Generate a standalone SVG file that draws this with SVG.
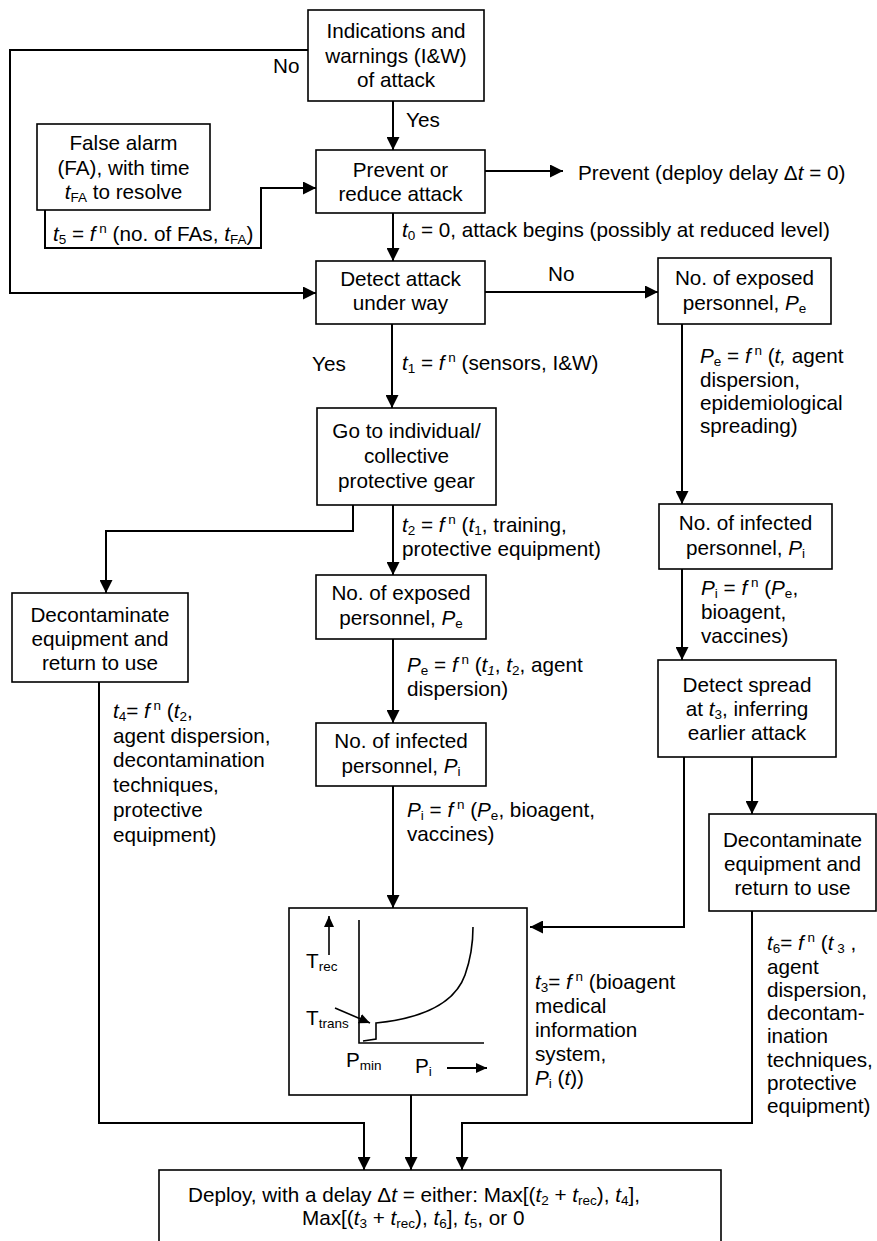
<svg xmlns="http://www.w3.org/2000/svg" width="877" height="1241" viewBox="0 0 877 1241">
<style>
text{font-family:"Liberation Sans",Arial,Helvetica,sans-serif;font-size:20.7px;fill:#000}
.c{text-anchor:middle}
.i{font-style:italic}
.sb{font-size:13.5px}
.box{fill:#fff;stroke:#000;stroke-width:1.6}
.ln{fill:none;stroke:#000;stroke-width:2}
.ar{marker-end:url(#ah)}
.thin{fill:none;stroke:#000;stroke-width:1.6}
</style>
<defs>
<marker id="ah" viewBox="0 0 13 13" refX="13" refY="6.5" markerWidth="13" markerHeight="13" markerUnits="userSpaceOnUse" orient="auto"><path d="M0,0 L13,6.5 L0,13 z" fill="#000"/></marker>
<marker id="sah" viewBox="0 0 11 10" refX="11" refY="5" markerWidth="11" markerHeight="10" markerUnits="userSpaceOnUse" orient="auto"><path d="M0,0 L11,5 L0,10 z" fill="#000"/></marker>
</defs>
<rect width="877" height="1241" fill="#fff"/>

<g id="connectors">
<path class="ln ar" d="M393,101 V150"/>
<path class="ln ar" d="M308,50 H10 V293 H316"/>
<path class="ln ar" d="M45,210 V248 H261 V188 H316"/>
<path class="ln ar" d="M485,171 H563"/>
<path class="ln ar" d="M393,213 V261"/>
<path class="ln ar" d="M485,292 H658"/>
<path class="ln ar" d="M392,324 V408"/>
<path class="ln ar" d="M682,324 V504"/>
<path class="ln ar" d="M682,569 V660"/>
<path class="ln ar" d="M393,505 V575"/>
<path class="ln ar" d="M353,505 V531 H106 V593"/>
<path class="ln ar" d="M393,639 V723"/>
<path class="ln ar" d="M393,786 V908"/>
<path class="ln ar" d="M684,757 V927 H530"/>
<path class="ln ar" d="M752,757 V814"/>
<path class="ln ar" d="M99,682 V1123 H364 V1170"/>
<path class="ln ar" d="M411,1095 V1170"/>
<path class="ln ar" d="M752,911 V1123 H462 V1170"/>

<text x="273" y="73">No</text>
<text x="406" y="127">Yes</text>
<text x="53" y="241"><tspan class="i">t</tspan><tspan class="sb" dy="3">5</tspan><tspan dy="-3"> = </tspan><tspan class="i">f</tspan><tspan class="sb" dy="-8"> n</tspan><tspan dy="8"> (no. of FAs, </tspan><tspan class="i">t</tspan><tspan class="sb" dy="3">FA</tspan><tspan dy="-3">)</tspan></text>
<text x="578" y="180">Prevent (deploy delay Δ<tspan class="i">t</tspan> = 0)</text>
<text x="402" y="237"><tspan class="i">t</tspan><tspan class="sb" dy="3">0</tspan><tspan dy="-3"> = 0, attack begins (possibly at reduced level)</tspan></text>
<text x="548" y="281">No</text>
<text x="312" y="371">Yes</text>
<text x="402" y="370"><tspan class="i">t</tspan><tspan class="sb" dy="3">1</tspan><tspan dy="-3"> = </tspan><tspan class="i">f</tspan><tspan class="sb" dy="-8"> n</tspan><tspan dy="8"> (sensors, I&amp;W)</tspan></text>
<text x="700" y="363"><tspan class="i">P</tspan><tspan class="sb" dy="3">e</tspan><tspan dy="-3"> = </tspan><tspan class="i">f</tspan><tspan class="sb" dy="-8"> n</tspan><tspan dy="8"> (</tspan><tspan class="i">t,</tspan><tspan> agent</tspan></text>
<text x="700" y="387">dispersion,</text>
<text x="700" y="410">epidemiological</text>
<text x="700" y="433">spreading)</text>
<text x="402" y="532"><tspan class="i">t</tspan><tspan class="sb" dy="3">2</tspan><tspan dy="-3"> = </tspan><tspan class="i">f</tspan><tspan class="sb" dy="-8"> n</tspan><tspan dy="8"> (</tspan><tspan class="i">t</tspan><tspan class="sb" dy="3">1</tspan><tspan dy="-3">, training,</tspan></text>
<text x="402" y="556">protective equipment)</text>
<text x="701" y="595"><tspan class="i">P</tspan><tspan class="sb" dy="3">i</tspan><tspan dy="-3"> = </tspan><tspan class="i">f</tspan><tspan class="sb" dy="-8"> n</tspan><tspan dy="8"> (</tspan><tspan class="i">P</tspan><tspan class="sb" dy="3">e</tspan><tspan dy="-3">,</tspan></text>
<text x="701" y="619">bioagent,</text>
<text x="701" y="643">vaccines)</text>
<text x="407" y="672"><tspan class="i">P</tspan><tspan class="sb" dy="3">e</tspan><tspan dy="-3"> = </tspan><tspan class="i">f</tspan><tspan class="sb" dy="-8"> n</tspan><tspan dy="8"> (</tspan><tspan class="i">t</tspan><tspan class="sb i" dy="3">1</tspan><tspan dy="-3">, </tspan><tspan class="i">t</tspan><tspan class="sb" dy="3">2</tspan><tspan dy="-3">, agent</tspan></text>
<text x="407" y="696">dispersion)</text>
<text x="407" y="817"><tspan class="i">P</tspan><tspan class="sb" dy="3">i</tspan><tspan dy="-3"> = </tspan><tspan class="i">f</tspan><tspan class="sb" dy="-8"> n</tspan><tspan dy="8"> (</tspan><tspan class="i">P</tspan><tspan class="sb" dy="3">e</tspan><tspan dy="-3">, bioagent,</tspan></text>
<text x="407" y="841">vaccines)</text>
<text x="113" y="718"><tspan class="i">t</tspan><tspan class="sb" dy="3">4</tspan><tspan dy="-3">= </tspan><tspan class="i">f</tspan><tspan class="sb" dy="-8"> n</tspan><tspan dy="8"> (</tspan><tspan class="i">t</tspan><tspan class="sb" dy="3">2</tspan><tspan dy="-3">,</tspan></text>
<text x="113" y="743">agent dispersion,</text>
<text x="113" y="767">decontamination</text>
<text x="113" y="792">techniques,</text>
<text x="113" y="817">protective</text>
<text x="113" y="842">equipment)</text>
<text x="535" y="989"><tspan class="i">t</tspan><tspan class="sb" dy="3">3</tspan><tspan dy="-3">= </tspan><tspan class="i">f</tspan><tspan class="sb" dy="-8"> n</tspan><tspan dy="8"> (bioagent</tspan></text>
<text x="535" y="1013">medical</text>
<text x="535" y="1037">information</text>
<text x="535" y="1061">system,</text>
<text x="535" y="1085"><tspan class="i">P</tspan><tspan class="sb" dy="3">i</tspan><tspan dy="-3"> (</tspan><tspan class="i">t</tspan><tspan>))</tspan></text>
<text x="767" y="950"><tspan class="i">t</tspan><tspan class="sb" dy="3">6</tspan><tspan dy="-3">= </tspan><tspan class="i">f</tspan><tspan class="sb" dy="-8"> n</tspan><tspan dy="8"> (</tspan><tspan class="i">t</tspan><tspan class="sb" dy="3"> 3</tspan><tspan dy="-3"> ,</tspan></text>
<text x="767" y="974">agent</text>
<text x="767" y="997">dispersion,</text>
<text x="767" y="1020">decontam-</text>
<text x="767" y="1043">ination</text>
<text x="767" y="1067">techniques,</text>
<text x="767" y="1090">protective</text>
<text x="767" y="1113">equipment)</text>
</g>

<g id="n_iw">
<rect class="box" x="308" y="10" width="176" height="91"/>
<text class="c" x="396" y="38">Indications and</text>
<text class="c" x="396" y="63">warnings (I&amp;W)</text>
<text class="c" x="396" y="87">of attack</text>
</g>
<g id="n_fa">
<rect class="box" x="37" y="124" width="173" height="86"/>
<text class="c" x="123.5" y="150">False alarm</text>
<text class="c" x="123.5" y="175">(FA), with time</text>
<text class="c" x="123.5" y="199"><tspan class="i">t</tspan><tspan class="sb" dy="3">FA</tspan><tspan dy="-3"> to resolve</tspan></text>
</g>
<g id="n_prevent">
<rect class="box" x="316" y="150" width="169" height="63"/>
<text class="c" x="400.5" y="177">Prevent or</text>
<text class="c" x="400.5" y="201">reduce attack</text>
</g>
<g id="n_detect">
<rect class="box" x="316" y="261" width="169" height="63"/>
<text class="c" x="400.5" y="286">Detect attack</text>
<text class="c" x="400.5" y="310">under way</text>
</g>
<g id="n_exposed_r">
<rect class="box" x="658" y="258" width="173" height="66"/>
<text class="c" x="744.5" y="285">No. of exposed</text>
<text class="c" x="744.5" y="310">personnel, <tspan class="i">P</tspan><tspan class="sb" dy="3">e</tspan></text>
</g>
<g id="n_gear">
<rect class="box" x="317" y="408" width="179" height="97"/>
<text class="c" x="406.5" y="438">Go to individual/</text>
<text class="c" x="406.5" y="463">collective</text>
<text class="c" x="406.5" y="488">protective gear</text>
</g>
<g id="n_infected_r">
<rect class="box" x="659" y="504" width="173" height="65"/>
<text class="c" x="745.5" y="530">No. of infected</text>
<text class="c" x="745.5" y="555">personnel, <tspan class="i">P</tspan><tspan class="sb" dy="3">i</tspan></text>
</g>
<g id="n_exposed_m">
<rect class="box" x="316" y="575" width="170" height="64"/>
<text class="c" x="401" y="600">No. of exposed</text>
<text class="c" x="401" y="625">personnel, <tspan class="i">P</tspan><tspan class="sb" dy="3">e</tspan></text>
</g>
<g id="n_decon_l">
<rect class="box" x="12" y="593" width="176" height="89"/>
<text class="c" x="100" y="622">Decontaminate</text>
<text class="c" x="100" y="646">equipment and</text>
<text class="c" x="100" y="670">return to use</text>
</g>
<g id="n_spread">
<rect class="box" x="658" y="660" width="178" height="97"/>
<text class="c" x="747" y="692">Detect spread</text>
<text class="c" x="747" y="716">at <tspan class="i">t</tspan><tspan class="sb" dy="3">3</tspan><tspan dy="-3">, inferring</tspan></text>
<text class="c" x="747" y="740">earlier attack</text>
</g>
<g id="n_infected_m">
<rect class="box" x="316" y="723" width="170" height="63"/>
<text class="c" x="401" y="748">No. of infected</text>
<text class="c" x="401" y="773">personnel, <tspan class="i">P</tspan><tspan class="sb" dy="3">i</tspan></text>
</g>
<g id="n_decon_r">
<rect class="box" x="709" y="814" width="167" height="97"/>
<text class="c" x="792.5" y="847">Decontaminate</text>
<text class="c" x="792.5" y="871">equipment and</text>
<text class="c" x="792.5" y="895">return to use</text>
</g>
<g id="n_graph">
<rect class="box" x="289" y="908" width="238" height="187"/>
<path class="thin" d="M329,955 V916" marker-end="url(#sah)"/>
<text x="306" y="968">T<tspan class="sb" dy="3">rec</tspan></text>
<path class="thin" d="M359,920 V1043 H484"/>
<path class="thin" d="M363,1041 L376,1039 V1023 C425,1018 455,1003 465,975 C471,958 473,940 473,927"/>
<text x="306" y="1025">T<tspan class="sb" dy="3">trans</tspan></text>
<path class="thin" d="M335,1008 L370,1023" marker-end="url(#sah)"/>
<text x="346" y="1067">P<tspan class="sb" dy="3">min</tspan></text>
<text x="415" y="1073">P<tspan class="sb" dy="3">i</tspan></text>
<path class="ln" d="M447,1068 H487" marker-end="url(#sah)"/>
</g>
<g id="n_deploy">
<rect class="box" x="159" y="1170" width="562" height="90"/>
<text x="188" y="1202">Deploy, with a delay Δ<tspan class="i">t</tspan> = either: Max[(<tspan class="i">t</tspan><tspan class="sb" dy="3">2</tspan><tspan dy="-3"> + </tspan><tspan class="i">t</tspan><tspan class="sb" dy="3">rec</tspan><tspan dy="-3">), </tspan><tspan class="i">t</tspan><tspan class="sb" dy="3">4</tspan><tspan dy="-3">],</tspan></text>
<text x="302" y="1225">Max[(<tspan class="i">t</tspan><tspan class="sb" dy="3">3</tspan><tspan dy="-3"> + </tspan><tspan class="i">t</tspan><tspan class="sb" dy="3">rec</tspan><tspan dy="-3">), </tspan><tspan class="i">t</tspan><tspan class="sb" dy="3">6</tspan><tspan dy="-3">], </tspan><tspan class="i">t</tspan><tspan class="sb" dy="3">5</tspan><tspan dy="-3">, or 0</tspan></text>
</g>
</svg>
